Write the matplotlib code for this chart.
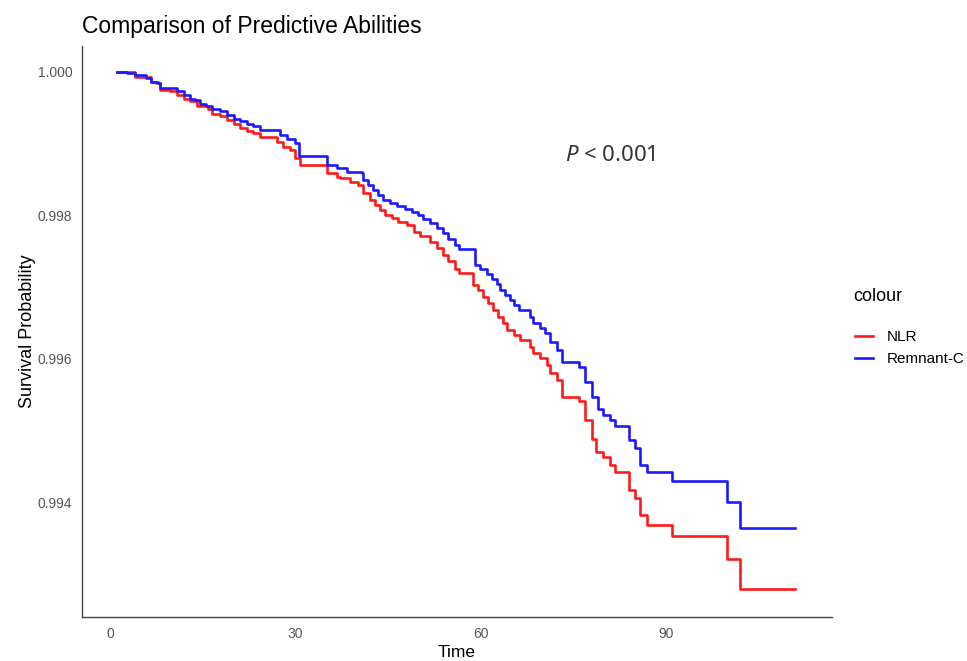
import matplotlib
matplotlib.use("Agg")
import matplotlib.pyplot as plt

plt.rcParams["font.family"] = ["Liberation Sans", "DejaVu Sans"]
plt.rcParams["mathtext.fontset"] = "custom"
plt.rcParams["mathtext.it"] = "Noto Sans:italic"
plt.rcParams["mathtext.rm"] = "Noto Sans"

# step curves (time, survival)
nlr_time = [1.1, 4.0, 6.7, 7.5, 8.1, 9.7, 10.8, 11.9, 12.9, 14.0, 15.9, 16.5, 17.8, 18.9,
            20.0, 21.0, 22.1, 23.2, 24.3, 27.0, 28.0, 29.1, 29.9, 30.7, 35.1, 36.7, 37.2,
            38.8, 40.2, 41.0, 42.1, 42.9, 43.7, 44.5, 45.6, 46.6, 48.0, 49.1, 50.2, 51.8,
            52.9, 53.9, 54.7, 55.8, 56.4, 58.8, 59.6, 60.4, 61.2, 62.0, 62.8, 63.6, 64.2,
            65.3, 66.3, 68.0, 68.5, 69.6, 70.7, 71.2, 72.3, 73.1, 75.8, 76.9, 77.9, 78.7,
            79.8, 80.9, 81.7, 83.9, 85.0, 85.8, 86.8, 90.9, 99.8, 101.9, 110.8]
nlr_surv = [1.00000, 0.99993, 0.99986, 0.99984, 0.99975, 0.99973, 0.99968, 0.99963, 0.99959,
            0.99953, 0.99949, 0.99942, 0.99938, 0.99933, 0.99928, 0.99922, 0.99918, 0.99915,
            0.99909, 0.99903, 0.99896, 0.99891, 0.99880, 0.99870, 0.99859, 0.99854, 0.99852,
            0.99847, 0.99843, 0.99831, 0.99822, 0.99815, 0.99808, 0.99801, 0.99796, 0.99791,
            0.99787, 0.99777, 0.99771, 0.99763, 0.99754, 0.99745, 0.99736, 0.99725, 0.99720,
            0.99703, 0.99696, 0.99687, 0.99678, 0.99668, 0.99659, 0.99650, 0.99640, 0.99633,
            0.99626, 0.99617, 0.99608, 0.99601, 0.99592, 0.99580, 0.99571, 0.99547, 0.99541,
            0.99515, 0.99489, 0.99471, 0.99464, 0.99452, 0.99442, 0.99418, 0.99406, 0.99383,
            0.99369, 0.99353, 0.99321, 0.99279, 0.99279]

rc_time = [1.1, 2.7, 4.0, 5.9, 6.7, 7.8, 8.1, 10.8, 11.9, 12.9, 13.8, 14.6, 15.6, 16.5, 17.8,
           18.9, 20.0, 21.0, 22.1, 23.2, 24.3, 27.5, 28.6, 29.9, 30.5, 35.1, 36.7, 38.3,
           40.7, 41.0, 41.8, 42.6, 43.4, 44.2, 45.3, 46.4, 47.7, 48.8, 49.9, 50.7, 51.8,
           52.9, 53.9, 54.7, 55.8, 56.4, 59.1, 59.9, 61.0, 61.8, 62.6, 63.1, 63.9, 64.7,
           65.3, 66.1, 68.0, 68.5, 69.6, 70.4, 71.2, 72.3, 73.1, 75.8, 76.9, 77.9, 79.0,
           79.8, 80.9, 81.7, 83.9, 85.0, 85.8, 86.8, 90.9, 99.8, 101.9, 110.8]
rc_surv = [1.00000, 0.99999, 0.99996, 0.99991, 0.99986, 0.99984, 0.99977, 0.99973, 0.99968,
           0.99963, 0.99961, 0.99956, 0.99953, 0.99948, 0.99945, 0.99940, 0.99935, 0.99931,
           0.99928, 0.99925, 0.99919, 0.99912, 0.99906, 0.99901, 0.99883, 0.99870, 0.99866,
           0.99861, 0.99859, 0.99849, 0.99843, 0.99836, 0.99829, 0.99822, 0.99818, 0.99813,
           0.99809, 0.99805, 0.99801, 0.99795, 0.99789, 0.99782, 0.99775, 0.99767, 0.99759,
           0.99753, 0.99731, 0.99726, 0.99719, 0.99712, 0.99705, 0.99696, 0.99689, 0.99682,
           0.99675, 0.99668, 0.99659, 0.99650, 0.99643, 0.99636, 0.99624, 0.99613, 0.99596,
           0.99589, 0.99568, 0.99547, 0.99530, 0.99522, 0.99515, 0.99506, 0.99487, 0.99476,
           0.99452, 0.99443, 0.99430, 0.99401, 0.99365, 0.99365]

x_ticks = [0, 30, 60, 90]
y_ticks = [0.994, 0.996, 0.998, 1.000]

fig = plt.figure(figsize=(9.67, 6.61), dpi=100)
ax = fig.add_axes([82/967, 1 - 617/661, (832 - 82)/967, (617 - 46)/661])

ax.step(nlr_time, nlr_surv, where="post", color="#FF1A1A", lw=1.9, label="NLR")
ax.step(rc_time, rc_surv, where="post", color="#1A1AFF", lw=1.9, label="Remnant-C")

ax.set_xlim(-4.53, 116.8)
ax.set_ylim(0.992404, 1.000362)
ax.set_xticks(x_ticks)
ax.set_yticks(y_ticks)
ax.set_yticklabels(["{:.3f}".format(v) for v in y_ticks])
ax.tick_params(length=0, labelsize=10, colors="#555555", pad=7)

for s in ["top", "right"]:
    ax.spines[s].set_visible(False)
for s in ["left", "bottom"]:
    ax.spines[s].set_color("#444444")
    ax.spines[s].set_linewidth(1.0)

ax.set_xlabel("Time", fontsize=12.5, color="black", labelpad=3)
ax.set_ylabel("Survival Probability", fontsize=13, color="black", labelpad=1)
fig.text(82/967, 1 - 27/661, "Comparison of Predictive Abilities", fontsize=16.5,
         ha="left", va="center")

ax.text(81.0, 0.99884, r"$\mathit{P}$ < 0.001", fontsize=16, color="#333333",
        ha="center", va="center", family="Noto Sans")

# legend title drawn separately so the gap below it matches
fig.text(853/967, 1 - 297/661, "colour", fontsize=13, ha="left", va="center")
leg = ax.legend(loc="upper left", bbox_to_anchor=(855/967, 1 - 330/661),
                bbox_transform=fig.transFigure, frameon=False,
                fontsize=11, handlelength=1.2, handletextpad=0.85,
                borderpad=0, borderaxespad=0, labelspacing=0.55)

fig.savefig("out.png", dpi=100)
